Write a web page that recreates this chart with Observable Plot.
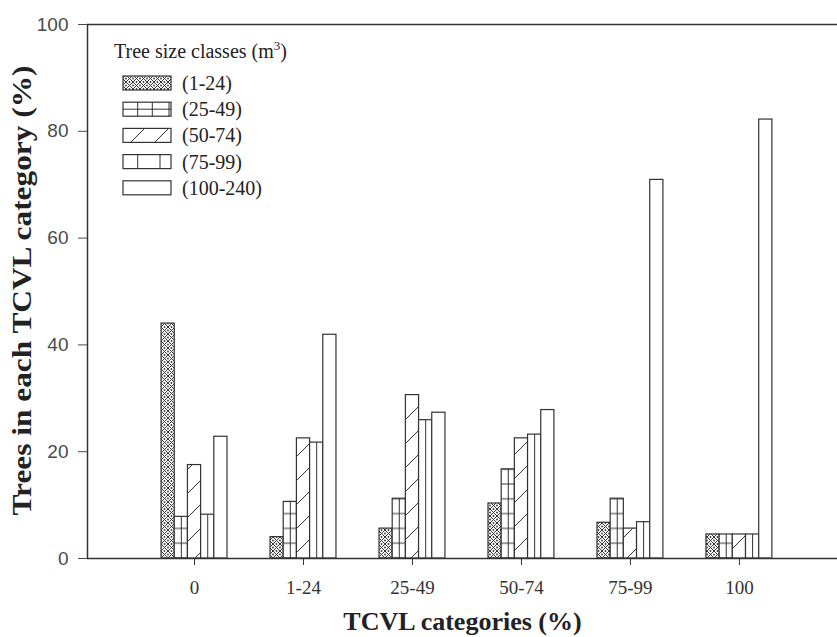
<!DOCTYPE html>
<html><head><meta charset="utf-8">
<script src="https://cdn.jsdelivr.net/npm/d3@7"></script>
<script src="https://cdn.jsdelivr.net/npm/@observablehq/plot@0.6"></script>
<style>body{margin:0;background:#fff} #chart{width:837px;height:637px}</style>
</head><body><div id="chart"></div>
<script>
// ---- data ----
const categories = ["0", "1-24", "25-49", "50-74", "75-99", "100"];
const sizeClasses = ["(1-24)", "(25-49)", "(50-74)", "(75-99)", "(100-240)"];
const s1_24    = [44.0,  4.0,  5.6, 10.3,  6.7,  4.5];
const s25_49   = [ 7.8, 10.6, 11.2, 16.7, 11.2,  4.5];
const s50_74   = [17.5, 22.5, 30.6, 22.5,  5.6,  4.5];
const s75_99   = [ 8.2, 21.7, 25.9, 23.2,  6.8,  4.5];
const s100_240 = [22.8, 41.9, 27.3, 27.8, 70.9, 82.2];
const yTicks = [0, 20, 40, 60, 80, 100];
const xTitle = "TCVL categories (%)";
const yTitle = "Trees in each TCVL category (%)";
const legendTitle = "Tree size classes (m";

// ---- layout ----
const W = 837, H = 637;
const xDomain = [0.018, 6.9];
const barW = 0.121;
const ink = "#333";
const serif = "'Liberation Serif', 'Times New Roman', serif";
const sans = "'Liberation Sans', Arial, sans-serif";

const seriesValues = [s1_24, s25_49, s50_74, s75_99, s100_240];
const fills = ["url(#pat-cross)", "url(#pat-grid)", "url(#pat-hatch)", "white", "white"];
const rows = [];
seriesValues.forEach((vals, k) => vals.forEach((v, i) => rows.push({
  cat: categories[i], series: sizeClasses[k], k, value: v,
  x1: i + 1 + (k - 2.5) * barW, x2: i + 1 + (k - 1.5) * barW, xc: i + 1 + (k - 2) * barW
})));

const plot = Plot.plot({
  width: W, height: H,
  marginLeft: 87, marginRight: 0, marginTop: 24, marginBottom: 79,
  x: {type: "linear", domain: xDomain},
  y: {domain: [0, 100]},
  style: {background: "white", overflow: "visible"},
  marks: [
    ...seriesValues.map((_, k) => Plot.rectY(rows.filter(d => d.k === k), {
      x1: "x1", x2: "x2", y1: 0, y2: "value", fill: fills[k], stroke: ink, strokeWidth: 1.2
    })),
    Plot.ruleX(rows.filter(d => d.k === 1 || d.k === 3), {x: "xc", y1: 0, y2: "value", stroke: ink, strokeWidth: 1}),
    Plot.ruleY([0, 100], {stroke: ink, strokeWidth: 1.5}),
    Plot.ruleX([xDomain[0]], {y1: 0, y2: 100, stroke: ink, strokeWidth: 1.5}),
    Plot.axisY({ticks: yTicks, tickSize: 9, tickPadding: 10, fontSize: 19, fontFamily: sans, color: "#4a4a4a", label: null}),
    Plot.axisX({ticks: [1, 2, 3, 4, 5, 6], tickFormat: i => categories[i - 1], tickSize: 7, tickPadding: 15,
      fontSize: 19, fontFamily: serif, color: "#333", label: null}),
    Plot.text([xTitle], {text: d => d, frameAnchor: "bottom", dy: 71, fontSize: 26, fontWeight: "bold", fontFamily: serif, fill: "#222"}),
    Plot.text([yTitle], {text: d => d, frameAnchor: "left", textAnchor: "middle", lineAnchor: "middle", dx: -65, dy: -1,
      rotate: -90, fontSize: 28, fontWeight: "bold", fontFamily: serif, fill: "#222", className: "ytitle"})
  ]
});

// ---- patterns ----
const svg = d3.select(plot);
const defs = svg.insert("defs", ":first-child");
const y0 = plot.scale("y").apply(0);

const pc = defs.append("pattern").attr("id", "pat-cross").attr("patternUnits", "userSpaceOnUse")
  .attr("width", 7).attr("height", 7).attr("y", y0);
pc.append("rect").attr("width", 7).attr("height", 7).attr("fill", "#fff");
pc.append("path").attr("d", "M0,0L7,7M7,0L0,7").attr("stroke", "#333").attr("stroke-width", 1);
[[3.5, 0], [0, 3.5], [7, 3.5], [3.5, 7]].forEach(([cx, cy]) => pc.append("circle").attr("cx", cx).attr("cy", cy).attr("r", 0.9).attr("fill", "#333"));

const pg = defs.append("pattern").attr("id", "pat-grid").attr("patternUnits", "userSpaceOnUse")
  .attr("width", 20).attr("height", 14.8).attr("y", y0);
pg.append("rect").attr("width", 20).attr("height", 14.8).attr("fill", "#fff");
pg.append("path").attr("d", "M0,0H20M0,14.8H20").attr("stroke", ink).attr("stroke-width", 1.2);

const ph = defs.append("pattern").attr("id", "pat-hatch").attr("patternUnits", "userSpaceOnUse")
  .attr("width", 24).attr("height", 24).attr("y", y0).attr("x", 3);
ph.append("rect").attr("width", 24).attr("height", 24).attr("fill", "#fff");
ph.append("path").attr("d", "M0,24L24,0M-6,6L6,-6M18,30L30,18").attr("stroke", ink).attr("stroke-width", 1);

// stretch y title to the reference length
svg.selectAll(".ytitle text").attr("textLength", 450).attr("lengthAdjust", "spacingAndGlyphs");

// ---- legend ----
const lg = svg.append("g").attr("class", "legend").attr("text-anchor", "start");
const lt = lg.append("text").attr("x", 114).attr("y", 58).attr("font-family", serif).attr("font-size", 20).attr("fill", "#222");
lt.append("tspan").text(legendTitle);
lt.append("tspan").attr("dy", -8).attr("font-size", 13).text("3");
lt.append("tspan").attr("dy", 8).text(")");

const legendFills = ["url(#pat-cross)", "white", "url(#pat-hatch)", "white", "white"];
sizeClasses.forEach((label, k) => {
  const top = 76 + k * 26.2;
  const g = lg.append("g");
  g.append("rect").attr("x", 123).attr("y", top).attr("width", 48).attr("height", 14)
    .attr("fill", legendFills[k]).attr("stroke", ink).attr("stroke-width", 1.2);
  if (k === 1) {
    g.append("path").attr("d", `M123,${top + 7}H171M137.7,${top}V${top + 14}M152.3,${top}V${top + 14}M169,${top}V${top + 14}`)
      .attr("stroke", ink).attr("stroke-width", 1);
  }
  if (k === 3) {
    g.append("path").attr("d", `M137.7,${top}V${top + 14}M160,${top}V${top + 14}`).attr("stroke", ink).attr("stroke-width", 1);
  }
  g.append("text").attr("x", 182).attr("y", top + 7).attr("dy", "0.35em")
    .attr("font-family", serif).attr("font-size", 20).attr("fill", "#222").text(label);
});

document.getElementById("chart").appendChild(plot);
</script>
</body></html>
